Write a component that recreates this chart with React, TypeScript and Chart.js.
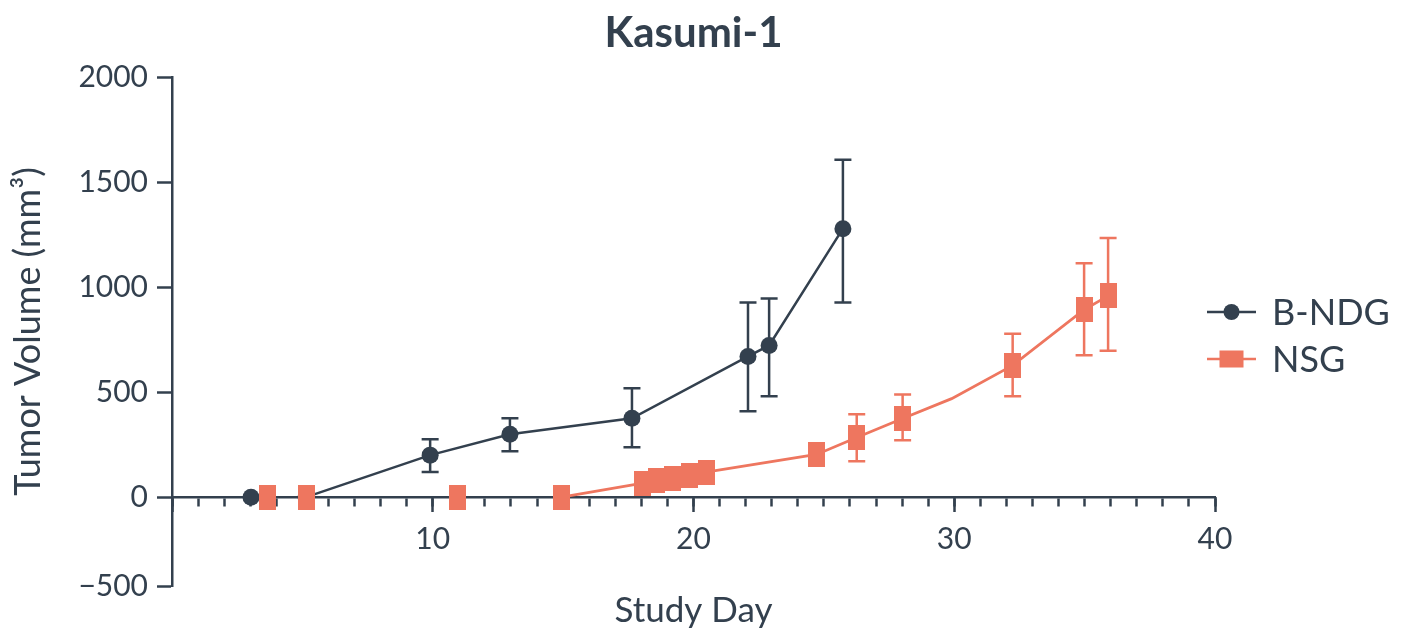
import React, { useEffect, useRef } from 'react';
import { Chart, registerables } from 'chart.js';

Chart.register(...registerables);

// ---------- text ----------
const CHART_TITLE = 'Kasumi-1';
const X_TITLE = 'Study Day';
const Y_TITLE = 'Tumor Volume (mm³)';
const SERIES_NAMES = ['B-NDG', 'NSG'];

// ---------- data ----------
const bndgDays = [3.03, 5.14, 9.9, 12.96, 17.64, 22.09, 22.9, 25.73];
const bndgMean = [0, 0, 200, 299, 375, 670, 722, 1278];
const bndgLow = [null, null, 120, 218, 238, 409, 480, 926];
const bndgHigh = [null, null, 275, 375, 518, 926, 945, 1606];

const nsgDays = [3.68, 5.14, 10.96, 14.94, 18.06, 18.6, 19.2, 19.86, 20.48, 24.72, 26.26, 28.02, 29.9, 32.24, 34.98, 35.9];
const nsgMean = [0, 0, 0, 0, 67, 81, 90, 104, 119, 203, 284, 374, 469, 627, 892, 958];
const nsgLow = [null, null, null, null, null, null, null, null, null, null, 171, 271, null, 480, 676, 697];
const nsgHigh = [null, null, null, null, null, null, null, null, null, null, 394, 489, null, 778, 1113, 1234];
const nsgHasMarker = [true, true, true, true, true, true, true, true, true, true, true, true, false, true, true, true];

// ---------- axes ----------
const X_MIN = 0;
const X_MAX = 40;
const X_MAJOR_TICKS = [0, 10, 20, 30, 40];
const X_MINOR_STEP = 1;
const Y_TICKS = [0, 500, 1000, 1500, 2000];
const Y_BOTTOM_LABEL = '−500';
const Y_BOTTOM_VALUE = -423; // compressed lower segment of the axis (−500)
const Y_MAX = 2000;

// ---------- styles ----------
const DARK = '#33404e';
const ORANGE = '#ee765f';
const FONT = 'Lato, "Noto Sans", sans-serif';

function makeRectMarker(w: number, h: number, color: string) {
  const c = document.createElement('canvas');
  c.width = w;
  c.height = h;
  const g = c.getContext('2d')!;
  g.fillStyle = color;
  g.fillRect(0, 0, w, h);
  return c;
}

const errorBarPlugin = {
  id: 'errorBars',
  beforeDatasetsDraw(chart: any) {
    const { ctx } = chart;
    const xs = chart.scales.x;
    const ys = chart.scales.y;
    chart.data.datasets.forEach((ds: any) => {
      const lows = ds.errLow as (number | null)[];
      const highs = ds.errHigh as (number | null)[];
      if (!lows) return;
      ctx.save();
      ctx.strokeStyle = ds.borderColor;
      ctx.lineWidth = 2.5;
      ds.data.forEach((pt: any, i: number) => {
        const lo = lows[i];
        const hi = highs[i];
        if (lo == null || hi == null) return;
        const x = xs.getPixelForValue(pt.x);
        const y1 = ys.getPixelForValue(lo);
        const y2 = ys.getPixelForValue(hi);
        const cap = 8.5;
        ctx.beginPath();
        ctx.moveTo(x, y1);
        ctx.lineTo(x, y2);
        ctx.moveTo(x - cap, y1);
        ctx.lineTo(x + cap, y1);
        ctx.moveTo(x - cap, y2);
        ctx.lineTo(x + cap, y2);
        ctx.stroke();
      });
      ctx.restore();
    });
  },
};

const legendPlugin = {
  id: 'sideLegend',
  afterDraw(chart: any) {
    const { ctx } = chart;
    const left = 1207;
    const lineLen = 49;
    const rows = [312, 359];
    chart.data.datasets.forEach((ds: any, i: number) => {
      const y = rows[i];
      const cx = left + lineLen / 2;
      ctx.save();
      ctx.strokeStyle = ds.borderColor;
      ctx.lineWidth = 2.5;
      ctx.beginPath();
      ctx.moveTo(left, y);
      ctx.lineTo(left + lineLen, y);
      ctx.stroke();
      ctx.fillStyle = ds.borderColor;
      if (ds.legendMarker === 'circle') {
        ctx.beginPath();
        ctx.arc(cx, y, 8, 0, Math.PI * 2);
        ctx.fill();
      } else {
        ctx.fillRect(cx - 12, y - 8.5, 24, 17);
      }
      ctx.fillStyle = DARK;
      ctx.font = `36px ${FONT}`;
      ctx.textBaseline = 'middle';
      ctx.textAlign = 'left';
      ctx.fillText(ds.label, 1272, y + 1);
      ctx.restore();
    });
  },
};

export default function App() {
  const ref = useRef<HTMLCanvasElement | null>(null);

  useEffect(() => {
    if (!ref.current) return;
    const rectMarker = makeRectMarker(17, 25, ORANGE);
    const zeroSegmentHidden = (color: string) => (c: any) =>
      c.p0.parsed.y === 0 && c.p1.parsed.y === 0 ? 'rgba(0,0,0,0)' : color;

    const chart = new Chart(ref.current, {
      type: 'line',
      data: {
        datasets: [
          {
            label: SERIES_NAMES[0],
            data: bndgDays.map((d, i) => ({ x: d, y: bndgMean[i] })),
            borderColor: DARK,
            backgroundColor: DARK,
            borderWidth: 2.5,
            pointStyle: 'circle',
            pointRadius: 8.5,
            pointBorderWidth: 0,
            pointBackgroundColor: DARK,
            tension: 0,
            order: 1,
            segment: { borderColor: zeroSegmentHidden(DARK) },
            errLow: bndgLow,
            errHigh: bndgHigh,
            legendMarker: 'circle',
          } as any,
          {
            label: SERIES_NAMES[1],
            data: nsgDays.map((d, i) => ({ x: d, y: nsgMean[i] })),
            borderColor: ORANGE,
            backgroundColor: ORANGE,
            borderWidth: 2.8,
            pointStyle: (c: any) => (nsgHasMarker[c.dataIndex] ? rectMarker : false),
            pointRadius: 10,
            pointBorderWidth: 0,
            tension: 0,
            order: 0,
            segment: { borderColor: zeroSegmentHidden(ORANGE) },
            errLow: nsgLow,
            errHigh: nsgHigh,
            legendMarker: 'rect',
          } as any,
        ],
      },
      options: {
        animation: false,
        responsive: false,
        maintainAspectRatio: false,
        devicePixelRatio: 1,
        layout: { padding: { left: 0, right: 193, top: 0, bottom: 0 } },
        plugins: {
          legend: { display: false },
          tooltip: { enabled: false },
          title: {
            display: true,
            text: CHART_TITLE,
            fullSize: false,
            color: DARK,
            font: { family: FONT, size: 42, weight: 'bold' },
            padding: { top: 8, bottom: 18.6 },
          },
        },
        scales: {
          x: {
            type: 'linear',
            axis: 'x',
            position: { y: 0 } as any,
            min: X_MIN,
            max: X_MAX,
            afterBuildTicks: (s: any) => {
              const t = [];
              for (let v = X_MIN; v <= X_MAX; v += X_MINOR_STEP) t.push({ value: v });
              s.ticks = t;
            },
            ticks: { display: false },
            grid: {
              display: true,
              drawOnChartArea: false,
              drawTicks: true,
              tickLength: 8,
              tickWidth: 2.5,
              tickColor: DARK,
            },
            border: { display: true, color: DARK, width: 2.5 },
          },
          xMajor: {
            type: 'linear',
            axis: 'x',
            position: { y: 0 } as any,
            min: X_MIN,
            max: X_MAX,
            afterBuildTicks: (s: any) => {
              s.ticks = X_MAJOR_TICKS.map((v) => ({ value: v }));
            },
            ticks: {
              autoSkip: false,
              maxRotation: 0,
              color: DARK,
              padding: 9,
              font: { family: FONT, size: 30 },
              callback: (v: any) => (v === 0 ? '' : String(v)),
            },
            grid: {
              display: true,
              drawOnChartArea: false,
              drawTicks: true,
              tickLength: 15,
              tickWidth: 2.5,
              tickColor: DARK,
            },
            border: { display: false },
          },
          xTitle: {
            type: 'linear',
            axis: 'x',
            position: 'bottom',
            min: X_MIN,
            max: X_MAX,
            ticks: { display: false },
            grid: { display: false, drawTicks: false },
            border: { display: false },
            title: {
              display: true,
              text: X_TITLE,
              color: DARK,
              font: { family: FONT, size: 35, lineHeight: 1.05 },
              padding: { top: 6.25, bottom: 0 },
            },
          },
          y: {
            type: 'linear',
            position: 'left',
            min: Y_BOTTOM_VALUE,
            max: Y_MAX,
            afterBuildTicks: (s: any) => {
              s.ticks = [Y_BOTTOM_VALUE, ...Y_TICKS].map((v) => ({ value: v }));
            },
            afterFit: (s: any) => {
              s.width = 172;
            },
            ticks: {
              autoSkip: false,
              color: DARK,
              padding: 9,
              font: { family: FONT, size: 30 },
              callback: (v: any) => (v === Y_BOTTOM_VALUE ? Y_BOTTOM_LABEL : String(v)),
            },
            grid: {
              display: true,
              drawOnChartArea: false,
              drawTicks: true,
              tickLength: 15,
              tickWidth: 2.5,
              tickColor: DARK,
            },
            border: { display: true, color: DARK, width: 2.5 },
            title: {
              display: true,
              text: Y_TITLE,
              color: DARK,
              font: { family: FONT, size: 36 },
              padding: { top: 7, bottom: 0 },
            },
          },
        },
      } as any,
      plugins: [errorBarPlugin, legendPlugin],
    });
    return () => chart.destroy();
  }, []);

  return (
    <div style={{ position: 'fixed', left: 0, top: 0, width: 1408, height: 629, background: '#fff' }}>
      <canvas ref={ref} width={1408} height={629} style={{ display: 'block' }} />
    </div>
  );
}
